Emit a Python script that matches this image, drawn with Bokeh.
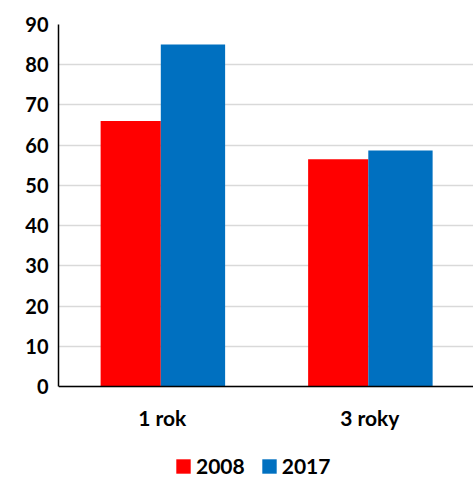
from bokeh.plotting import figure
from bokeh.models import ColumnDataSource, Legend, LegendItem, FixedTicker, Range1d
from bokeh.transform import dodge
from bokeh.embed import file_html
from bokeh.resources import INLINE

categories = ["1 rok", "3 roky"]
series_names = ["2008", "2017"]
values_2008 = [66, 56.5]
values_2017 = [85, 58.7]
colors = ["#FF0000", "#0070C0"]
y_ticks = [0, 10, 20, 30, 40, 50, 60, 70, 80, 90]

src = ColumnDataSource(dict(cat=categories, v2008=values_2008, v2017=values_2017))

# frame reaches the bottom of the page so the legend can sit under the axis
p = figure(x_range=categories, y_range=Range1d(-22.87, 90),
           frame_width=415, frame_height=454,
           output_backend="svg", toolbar_location=None,
           min_border_left=58, min_border_right=0, min_border_top=24, min_border_bottom=0)

r1 = p.vbar(x=dodge("cat", -0.152, range=p.x_range), top="v2008", width=0.29, source=src,
            fill_color=colors[0], line_color=None)
r2 = p.vbar(x=dodge("cat", 0.148, range=p.x_range), top="v2017", width=0.31, source=src,
            fill_color=colors[1], line_color=None)

p.outline_line_color = None
p.xgrid.grid_line_color = None
p.ygrid.grid_line_color = "#D9D9D9"
p.ygrid.grid_line_width = 1.5
p.yaxis.ticker = FixedTicker(ticks=y_ticks)
p.yaxis.bounds = (0, 90)
p.xaxis.fixed_location = 0
for ax in (p.xaxis[0], p.yaxis[0]):
    ax.axis_line_color = "black"
    ax.axis_line_width = 1.5
    ax.major_tick_line_color = None
    ax.minor_tick_line_color = None
    ax.major_tick_out = 0
    ax.major_tick_in = 0
    ax.major_label_text_font = "Lato"
    ax.major_label_text_font_style = "bold"
    ax.major_label_text_font_size = "20px"
    ax.major_label_text_color = "black"
p.xaxis.major_label_text_font_size = "21px"
p.yaxis.major_label_standoff = 10
p.xaxis.major_label_standoff = 18

legend = Legend(items=[LegendItem(label=series_names[0], renderers=[r1]),
                       LegendItem(label=series_names[1], renderers=[r2])],
                orientation="horizontal", location=(116, 0),
                label_text_font="Lato", label_text_font_style="bold",
                label_text_font_size="21px", label_text_color="black",
                glyph_width=18, glyph_height=18, label_height=18,
                spacing=15, label_standoff=4, border_line_color=None,
                background_fill_alpha=0, padding=0, margin=0)
p.add_layout(legend, "center")

open("out.html", "w").write(file_html(p, INLINE))
